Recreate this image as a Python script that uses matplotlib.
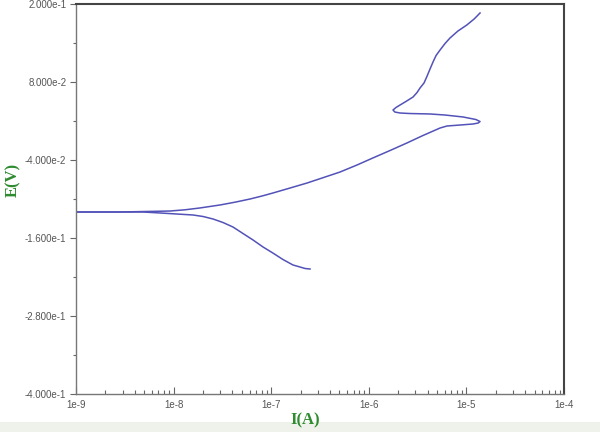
import matplotlib
matplotlib.use("Agg")
import matplotlib.pyplot as plt
from matplotlib.ticker import FixedLocator, NullFormatter, LogLocator
from matplotlib.patches import Rectangle

# Cathodic branch (from far cathodic end towards Ecorr)
cath_I = [2.50e-7, 2.22e-7, 1.97e-7, 1.67e-7, 1.32e-7, 1.04e-7, 8.24e-8, 6.52e-8,
          5.14e-8, 4.06e-8, 3.21e-8, 2.54e-8, 2.00e-8, 1.58e-8, 1.08e-8,
          7.26e-9, 4.85e-9, 2.23e-9, 1.02e-9, 8.0e-10]
cath_E = [-0.2077, -0.2069, -0.2046, -0.2015, -0.1931, -0.1831, -0.1738, -0.1631,
          -0.1531, -0.1431, -0.1362, -0.1308, -0.1269, -0.1246, -0.1231,
          -0.1215, -0.1200, -0.1200, -0.1200, -0.1200]

# Anodic branch (from Ecorr towards anodic end)
anod_I = [8.0e-10, 1.0e-9, 2.82e-9, 9.18e-9, 1.31e-8, 1.86e-8, 2.99e-8, 4.26e-8,
          6.07e-8, 8.05e-8, 1.04e-7, 1.56e-7, 2.33e-7, 3.40e-7, 5.07e-7, 7.57e-7,
          1.10e-6, 1.65e-6, 2.46e-6, 3.59e-6, 5.37e-6, 6.32e-6, 8.59e-6, 1.17e-5,
          1.32e-5, 1.38e-5, 1.25e-5, 9.23e-6, 6.04e-6, 4.24e-6, 2.64e-6, 2.09e-6,
          1.85e-6, 1.77e-6, 1.90e-6, 2.09e-6, 2.40e-6, 2.84e-6, 3.12e-6, 3.35e-6,
          3.68e-6, 3.94e-6, 4.24e-6, 4.55e-6, 4.89e-6, 5.37e-6, 6.04e-6, 6.79e-6,
          8.20e-6, 1.01e-5, 1.20e-5, 1.38e-5]
anod_E = [-0.1200, -0.1200, -0.1200, -0.1185, -0.1166, -0.1138, -0.1092, -0.1049,
          -0.1000, -0.0954, -0.0908, -0.0831, -0.0754, -0.0672, -0.0585, -0.0477,
          -0.0369, -0.0254, -0.0138, -0.0023, 0.0092, 0.0123, 0.0138, 0.0154,
          0.0169, 0.0192, 0.0223, 0.0262, 0.0292, 0.0308, 0.0315, 0.0323,
          0.0338, 0.0369, 0.0408, 0.0446, 0.0500, 0.0569, 0.0638, 0.0708,
          0.0785, 0.0885, 0.1000, 0.1108, 0.1208, 0.1292, 0.1392, 0.1477,
          0.1585, 0.1677, 0.1769, 0.1862]

y_ticks = [0.2, 0.08, -0.04, -0.16, -0.28, -0.40]
y_ticklabels = ["2.000e-1", "8.000e-2", "-4.000e-2", "-1.600e-1", "-2.800e-1", "-4.000e-1"]
x_ticks = [1e-9, 1e-8, 1e-7, 1e-6, 1e-5, 1e-4]
x_ticklabels = ["1e-9", "1e-8", "1e-7", "1e-6", "1e-5", "1e-4"]

fig = plt.figure(figsize=(6, 4.32), dpi=100)
fig.patch.set_facecolor("white")
fig.patches.append(Rectangle((0, 0), 1, 10 / 432, transform=fig.transFigure,
                             facecolor="#eef2ea", edgecolor="none", zorder=0))

ax = fig.add_axes([76 / 600, 38 / 432, 488 / 600, 390 / 432])
line_color = "#5252b8"
ax.plot(cath_I, cath_E, color=line_color, lw=1.1, solid_joinstyle="round")
ax.plot(anod_I, anod_E, color=line_color, lw=1.1, solid_joinstyle="round")

ax.set_xscale("log")
ax.set_xlim(1e-9, 1e-4)
ax.set_ylim(-0.4, 0.2)

ax.set_xticks(x_ticks)
ax.set_xticklabels(x_ticklabels)
ax.xaxis.set_minor_locator(LogLocator(base=10, subs=range(2, 10)))
ax.xaxis.set_minor_formatter(NullFormatter())
ax.set_yticks(y_ticks)
ax.set_yticklabels(y_ticklabels)
ax.yaxis.set_minor_locator(FixedLocator([0.14, 0.02, -0.10, -0.22, -0.34]))

for lbl in ax.get_xticklabels() + ax.get_yticklabels():
    lbl.set_fontfamily(["Liberation Sans", "DejaVu Sans"])
    lbl.set_fontsize(7)
    lbl.set_color("#555555")

ax.tick_params(axis="x", which="major", direction="in", length=5, width=0.8,
               color="#666666", pad=4)
ax.tick_params(axis="x", which="minor", direction="in", length=3, width=0.8,
               color="#666666")
ax.tick_params(axis="y", which="major", direction="out", length=4, width=0.8,
               color="#666666", pad=3)
ax.tick_params(axis="y", which="minor", direction="out", length=2.5, width=0.8,
               color="#666666")

for side in ["left", "bottom"]:
    ax.spines[side].set_color("#777777")
    ax.spines[side].set_linewidth(1.0)
for side in ["top", "right"]:
    ax.spines[side].set_color("#444444")
    ax.spines[side].set_linewidth(1.5)

fig.text(305 / 600, 1 - 420 / 432, "I(A)", color="#2e8b2e", fontsize=12,
         fontweight="bold", family=["Liberation Serif", "DejaVu Serif"],
         ha="center", va="center")
fig.text(13 / 600, 1 - 180 / 432, "E(V)", color="#2e8b2e", fontsize=12,
         fontweight="bold", family=["Liberation Serif", "DejaVu Serif"],
         ha="center", va="center", rotation=90)

fig.savefig("out.png", dpi=100, facecolor=fig.get_facecolor())
